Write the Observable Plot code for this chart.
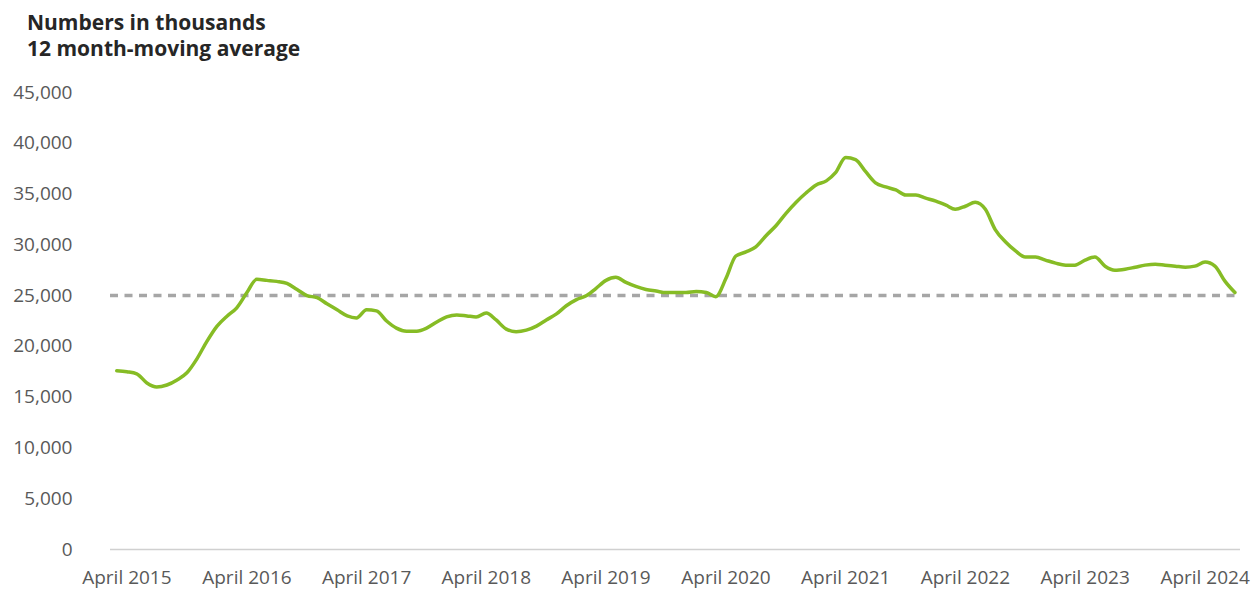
<!DOCTYPE html>
<html>
<head>
<meta charset="utf-8">
<script src="https://cdn.jsdelivr.net/npm/d3@7"></script>
<script src="https://cdn.jsdelivr.net/npm/@observablehq/plot@0.6"></script>
<style>
  html, body { margin: 0; padding: 0; background: #fff; }
  #title { box-sizing: border-box; height: 75px; padding: 9px 0 0 27px; font-family: "Open Sans", sans-serif; font-weight: 700; font-size: 21px; line-height: 26px; color: #262626; }
  #chart svg { display: block; }
</style>
</head>
<body>
<div id="title">Numbers in thousands<br>12 month-moving average</div>
<div id="chart"></div>
<script>
// Monthly 12-month moving average, March 2015 – July 2024 (numbers in thousands)
const firstMonth = { year: 2015, month: 3 }; // March 2015
const values = [
  17600, 17500, 17300, 16400, 16000, 16200, 16700, 17400, 18800, 20500, 22000, 23000,
  23800, 25300, 26600, 26500, 26400, 26200, 25600, 25000, 24800, 24200, 23600, 23000,
  22800, 23600, 23500, 22500, 21800, 21500, 21500, 21800, 22400, 22900, 23100, 23000,
  22900, 23300, 22600, 21700, 21450, 21600, 22000, 22600, 23200, 24000, 24600, 25000,
  25700, 26500, 26800, 26300, 25900, 25600, 25450, 25300, 25300, 25300, 25400, 25300,
  24900, 26700, 28900, 29300, 29800, 30900, 31900, 33100, 34200, 35100, 35900, 36300,
  37100, 38600, 38400, 37200, 36100, 35700, 35400, 34900, 34900, 34600, 34300, 33900,
  33500, 33800, 34200, 33500, 31500, 30300, 29400, 28800, 28800, 28500, 28200, 28000,
  28000, 28500, 28800, 27900, 27500, 27600, 27800, 28000, 28100, 28000, 27900, 27800,
  27900, 28300, 27900, 26400, 25300
];
const referenceLevel = 25000;
const yTicks = [0, 5000, 10000, 15000, 20000, 25000, 30000, 35000, 40000, 45000];
const xTickYears = [2015, 2016, 2017, 2018, 2019, 2020, 2021, 2022, 2023, 2024];
const xTickLabels = ["April 2015", "April 2016", "April 2017", "April 2018", "April 2019",
                     "April 2020", "April 2021", "April 2022", "April 2023", "April 2024"];

const data = values.map((v, i) => ({
  date: new Date(Date.UTC(firstMonth.year, firstMonth.month - 1 + i, 1)),
  value: v
}));
const xTicks = xTickYears.map(y => new Date(Date.UTC(y, 3, 1)));
const labelFor = new Map(xTicks.map((d, i) => [+d, xTickLabels[i]]));

const chart = Plot.plot({
  width: 1260,
  height: 517,
  marginTop: 17,
  marginBottom: 43,
  marginLeft: 110,
  marginRight: 20,
  style: { fontFamily: "Open Sans, sans-serif", fontSize: "19px", color: "#595959", background: "#fff" },
  x: {
    type: "utc",
    domain: [new Date(Date.UTC(2015, 1, 10)), new Date(Date.UTC(2024, 6, 18))]
  },
  y: { domain: [0, 45000] },
  marks: [
    Plot.axisY({ ticks: yTicks, tickFormat: d3.format(","), tickSize: 0, tickPadding: 38, label: null }),
    Plot.axisX({ ticks: xTicks, tickFormat: d => labelFor.get(+d), tickSize: 0, tickPadding: 21, label: null }),
    Plot.ruleY([0], { stroke: "#d0d0d0", strokeWidth: 1.5 }),
    Plot.ruleY([referenceLevel], { stroke: "#a6a6a6", strokeWidth: 3.5, strokeDasharray: "8,6.5" }),
    Plot.line(data, { x: "date", y: "value", stroke: "#86bc25", strokeWidth: 3.5, curve: "monotone-x" })
  ]
});
document.getElementById("chart").appendChild(chart);
</script>
</body>
</html>
